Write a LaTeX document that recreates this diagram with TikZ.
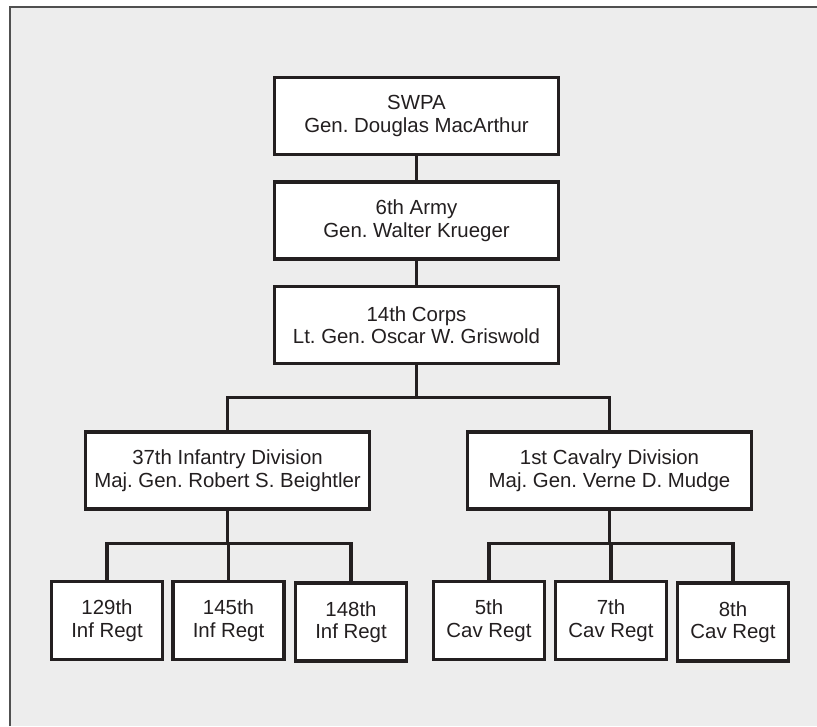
\documentclass[tikz,border=0pt]{standalone}
\usepackage{fontspec}
\setmainfont{Liberation Sans}
\definecolor{bg}{HTML}{EDEDED}
\definecolor{frm}{HTML}{505050}
\definecolor{ink}{HTML}{231F20}
\begin{document}
\frenchspacing
\begin{tikzpicture}[x=1pt,y=-1pt,
  unit/.style={draw=ink,line width=3.3pt,fill=white,text=ink,align=center,
    inner sep=0pt,font=\fontsize{20.4}{22.5}\selectfont},
  big/.style={unit,minimum width=284pt,minimum height=77pt},
  reg/.style={unit,minimum width=111pt,minimum height=78pt},
  link/.style={draw=ink,line width=3.3pt}]
\useasboundingbox (0,0) rectangle (817,726);
\fill[bg] (10,7) rectangle (817,726);
\draw[frm,line width=2.2pt] (10,726) -- (10,7) -- (817,7);
\node[big] (swpa) at (416.5,116) {SWPA\\Gen. Douglas MacArthur};
\node[big] (army) at (416.5,220.5) {6th Army\\Gen. Walter Krueger};
\node[big] (corps) at (416.5,325) {14th Corps\\Lt. Gen. Oscar W. Griswold};
\node[big] (inf) at (227.5,470.5) {37th Infantry Division\\Maj. Gen. Robert S. Beightler};
\node[big] (cav) at (609.5,470.5) {1st Cavalry Division\\Maj. Gen. Verne D. Mudge};
\node[reg] (r129) at (107,620.5) {129th\\Inf Regt};
\node[reg] (r145) at (228.5,620.5) {145th\\Inf Regt};
\node[reg] (r148) at (351,622) {148th\\Inf Regt};
\node[reg] (c5) at (489,620.5) {5th\\Cav Regt};
\node[reg] (c7) at (611,620.5) {7th\\Cav Regt};
\node[reg] (c8) at (733,622) {8th\\Cav Regt};
\draw[link] (swpa) -- (army);
\draw[link] (army) -- (corps);
\draw[link] (corps.south) -- ++(0,32) -| (inf.north);
\draw[link] (corps.south) -- ++(0,32) -| (cav.north);
\draw[link] (inf.south) -- ++(0,33) -| (r129.north);
\draw[link] (inf.south) -- ++(0,33) -| (r145.north);
\draw[link] (inf.south) -- ++(0,33) -| (r148.north);
\draw[link] (cav.south) -- ++(0,33) -| (c5.north);
\draw[link] (cav.south) -- ++(0,33) -| (c7.north);
\draw[link] (cav.south) -- ++(0,33) -| (c8.north);
\end{tikzpicture}
\end{document}
